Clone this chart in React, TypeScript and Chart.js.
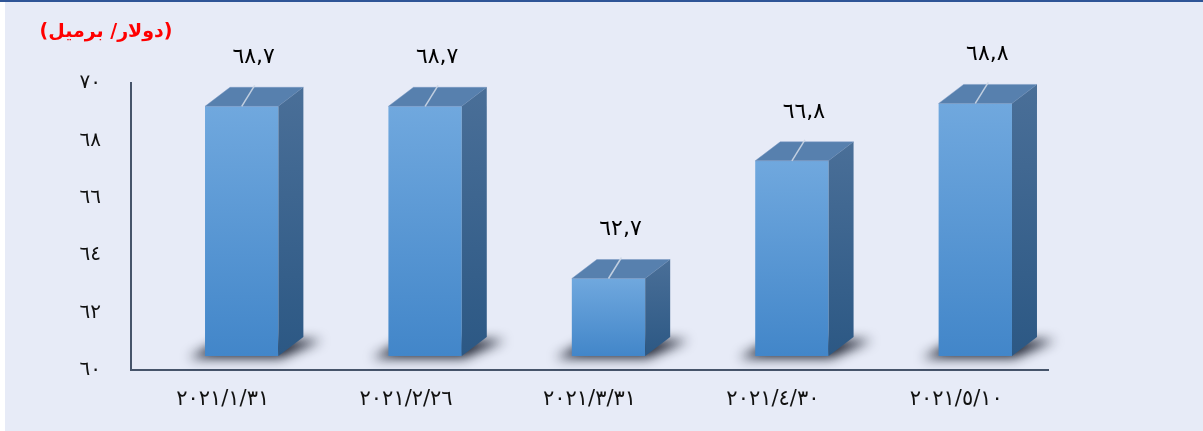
import React, { useEffect, useRef } from "react";
import { Chart, registerables } from "chart.js";

Chart.register(...registerables);

const categories = ["٢٠٢١/١/٣١", "٢٠٢١/٢/٢٦", "٢٠٢١/٣/٣١", "٢٠٢١/٤/٣٠", "٢٠٢١/٥/١٠"];
const prices = [68.7, 68.7, 62.7, 66.8, 68.8];
const axisMin = 60;
const axisMax = 70;
const axisStep = 2;
const unitLabel = "(دولار/ برميل)";

const AR_DIGITS = "٠١٢٣٤٥٦٧٨٩";
const toArabic = (v: number | string) =>
  String(v).replace(/[0-9]/g, (d) => AR_DIGITS[+d]).replace(".", ",");

const FONT = "'DejaVu Sans', sans-serif";
const SHIFT_X = 19;
const SHIFT_Y = -14;
const DEPTH_X = 25;
const DEPTH_Y = 19;

const threeD = {
  id: "threeD",
  beforeDraw(chart: any) {
    const { ctx, width, height } = chart;
    ctx.save();
    ctx.fillStyle = "#ffffff";
    ctx.fillRect(0, 0, width, height);
    ctx.fillStyle = "#e7ebf7";
    ctx.fillRect(5, 2, width - 5, height - 2);
    ctx.fillStyle = "#2f5597";
    ctx.fillRect(0, 0, width, 2);
    ctx.restore();
  },
  beforeDatasetsDraw(chart: any) {
    const { ctx } = chart;
    ctx.save();
    ctx.translate(SHIFT_X, SHIFT_Y);
    const meta = chart.getDatasetMeta(0);
    meta.data.forEach((el: any) => {
      const { x, base, width } = el.getProps(["x", "base", "width"], true);
      const l = x - width / 2;
      const r = x + width / 2;
      const off = 10000;
      ctx.save();
      ctx.shadowColor = "rgba(15,20,35,0.95)";
      ctx.shadowBlur = 12;
      ctx.shadowOffsetX = -off;
      ctx.shadowOffsetY = 0;
      ctx.fillStyle = "#000";
      ctx.beginPath();
      ctx.moveTo(l - 16 + off, base + 2);
      ctx.lineTo(r + 2 + off, base + 2);
      ctx.lineTo(r + DEPTH_X + 18 + off, base - DEPTH_Y + 3);
      ctx.lineTo(l + DEPTH_X - 8 + off, base - DEPTH_Y + 3);
      ctx.closePath();
      ctx.fill();
      ctx.restore();
    });
  },
  afterDatasetsDraw(chart: any) {
    const { ctx } = chart;
    const meta = chart.getDatasetMeta(0);
    meta.data.forEach((el: any, i: number) => {
      const { x, y, base, width } = el.getProps(["x", "y", "base", "width"], true);
      const l = x - width / 2;
      const r = x + width / 2;
      // top face
      ctx.beginPath();
      ctx.moveTo(l, y);
      ctx.lineTo(r, y);
      ctx.lineTo(r + DEPTH_X, y - DEPTH_Y);
      ctx.lineTo(l + DEPTH_X, y - DEPTH_Y);
      ctx.closePath();
      ctx.fillStyle = "#5780ae";
      ctx.fill();
      ctx.strokeStyle = "rgba(120,150,195,0.45)";
      ctx.lineWidth = 1;
      ctx.stroke();
      // side face
      const g = ctx.createLinearGradient(0, y - DEPTH_Y, 0, base);
      g.addColorStop(0, "#4a6f98");
      g.addColorStop(1, "#2c5884");
      ctx.beginPath();
      ctx.moveTo(r, y);
      ctx.lineTo(r + DEPTH_X, y - DEPTH_Y);
      ctx.lineTo(r + DEPTH_X, base - DEPTH_Y);
      ctx.lineTo(r, base);
      ctx.closePath();
      ctx.fillStyle = g;
      ctx.fill();
      // leader line
      ctx.beginPath();
      ctx.moveTo(x, y);
      ctx.lineTo(x + 13, y - 21);
      ctx.strokeStyle = "rgba(205,215,230,0.9)";
      ctx.lineWidth = 1.5;
      ctx.stroke();
      // value label
      ctx.fillStyle = "#000";
      ctx.font = `22px ${FONT}`;
      ctx.textAlign = "center";
      ctx.textBaseline = "middle";
      ctx.fillText(toArabic(prices[i]), x + 12, y - 49);
    });
    ctx.restore();
    // unit title
    ctx.save();
    ctx.fillStyle = "#ff0000";
    ctx.font = `bold 19px ${FONT}`;
    ctx.textAlign = "center";
    ctx.textBaseline = "middle";
    ctx.fillText(unitLabel, 106, 32);
    ctx.restore();
  },
};

export default function App() {
  const ref = useRef<HTMLCanvasElement | null>(null);
  useEffect(() => {
    document.body.style.margin = "0";
    const canvas = ref.current;
    if (!canvas) return;
    const chart = new Chart(canvas, {
      type: "bar",
      data: {
        labels: categories,
        datasets: [
          {
            data: prices,
            base: axisMin,
            barPercentage: 0.4,
            categoryPercentage: 1,
            clip: false,
            backgroundColor: (c: any) => {
              const ch = c.chart;
              const ys = ch.scales.y;
              if (!ys || c.parsed === undefined || c.parsed === null) return "#5b9bd5";
              const top = ys.getPixelForValue(c.parsed.y);
              const bot = ys.getPixelForValue(axisMin);
              if (!isFinite(top) || !isFinite(bot) || top === bot) return "#5b9bd5";
              const g = ch.ctx.createLinearGradient(0, top, 0, bot);
              g.addColorStop(0, "#70a8de");
              g.addColorStop(1, "#4286c9");
              return g;
            },
            borderWidth: 0,
          } as any,
        ],
      },
      options: {
        responsive: false,
        animation: false,
        layout: { padding: { left: 0, top: 83, right: 155, bottom: 0 } },
        plugins: { legend: { display: false }, tooltip: { enabled: false } },
        scales: {
          x: {
            grid: { display: false },
            border: { display: true, color: "#46546a", width: 2 },
            ticks: { color: "#111", font: { family: FONT, size: 21 }, padding: 9, maxRotation: 0 },
            afterFit: (s: any) => {
              s.height = 61;
            },
          },
          y: {
            min: axisMin,
            max: axisMax,
            grid: { display: false },
            border: { display: true, color: "#46546a", width: 2 },
            ticks: {
              stepSize: axisStep,
              color: "#111",
              font: { family: FONT, size: 20 },
              padding: 22,
              callback: (v: any) => toArabic(v),
            },
            afterFit: (s: any) => {
              s.width = 131;
            },
          },
        },
      },
      plugins: [threeD],
    });
    return () => chart.destroy();
  }, []);
  return (
    <div style={{ width: 1203, height: 431 }}>
      <canvas ref={ref} width={1203} height={431} style={{ display: "block" }} />
    </div>
  );
}
